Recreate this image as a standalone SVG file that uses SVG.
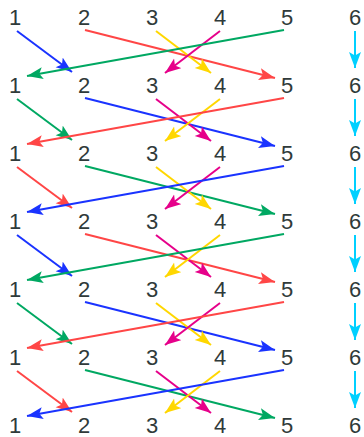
<svg xmlns="http://www.w3.org/2000/svg" width="364" height="437" viewBox="0 0 364 437">
<style>
text{font-family:"Liberation Sans",Arial,sans-serif;font-size:22px;fill:#2f3a3a;text-anchor:middle}
line{stroke-width:2;fill:none}
.b{stroke:#1a33ff;marker-end:url(#mb)}
.r{stroke:#ff4646;marker-end:url(#mr)}
.g{stroke:#00a862;marker-end:url(#mg)}
.y{stroke:#ffd700;marker-end:url(#my)}
.m{stroke:#e6008a;marker-end:url(#mm)}
.c{stroke:#00d0ff;marker-end:url(#mc)}
</style>
<defs>
<marker id="mb" markerUnits="userSpaceOnUse" markerWidth="18" markerHeight="14" refX="16" refY="6" orient="auto"><path d="M0,0 L16,6 L0,12 L3.5,6 z" fill="#1a33ff"/></marker>
<marker id="mr" markerUnits="userSpaceOnUse" markerWidth="18" markerHeight="14" refX="16" refY="6" orient="auto"><path d="M0,0 L16,6 L0,12 L3.5,6 z" fill="#ff4646"/></marker>
<marker id="mg" markerUnits="userSpaceOnUse" markerWidth="18" markerHeight="14" refX="16" refY="6" orient="auto"><path d="M0,0 L16,6 L0,12 L3.5,6 z" fill="#00a862"/></marker>
<marker id="my" markerUnits="userSpaceOnUse" markerWidth="18" markerHeight="14" refX="16" refY="6" orient="auto"><path d="M0,0 L16,6 L0,12 L3.5,6 z" fill="#ffd700"/></marker>
<marker id="mm" markerUnits="userSpaceOnUse" markerWidth="18" markerHeight="14" refX="16" refY="6" orient="auto"><path d="M0,0 L16,6 L0,12 L3.5,6 z" fill="#e6008a"/></marker>
<marker id="mc" markerUnits="userSpaceOnUse" markerWidth="18" markerHeight="14" refX="16" refY="6" orient="auto"><path d="M0,0 L16,6 L0,12 L3.5,6 z" fill="#00d0ff"/></marker>
</defs>
<g id="connectors">
<line class="b" x1="17" y1="31" x2="72" y2="72"/>
<line class="r" x1="85" y1="30" x2="275" y2="78"/>
<line class="y" x1="156" y1="31" x2="211" y2="73"/>
<line class="m" x1="220" y1="31" x2="165" y2="73"/>
<line class="g" x1="284" y1="30" x2="27" y2="76"/>
<line class="c" x1="355" y1="31" x2="355" y2="68"/>

<line class="g" x1="17" y1="99" x2="72" y2="140"/>
<line class="b" x1="85" y1="98" x2="275" y2="146"/>
<line class="m" x1="156" y1="99" x2="211" y2="141"/>
<line class="y" x1="220" y1="99" x2="165" y2="141"/>
<line class="r" x1="284" y1="98" x2="27" y2="144"/>
<line class="c" x1="355" y1="99" x2="355" y2="136"/>

<line class="r" x1="17" y1="167" x2="72" y2="208"/>
<line class="g" x1="85" y1="166" x2="275" y2="214"/>
<line class="y" x1="156" y1="167" x2="211" y2="209"/>
<line class="m" x1="220" y1="167" x2="165" y2="209"/>
<line class="b" x1="284" y1="166" x2="27" y2="212"/>
<line class="c" x1="355" y1="167" x2="355" y2="204"/>

<line class="b" x1="17" y1="235" x2="72" y2="276"/>
<line class="r" x1="85" y1="234" x2="275" y2="282"/>
<line class="m" x1="156" y1="235" x2="211" y2="277"/>
<line class="y" x1="220" y1="235" x2="165" y2="277"/>
<line class="g" x1="284" y1="234" x2="27" y2="280"/>
<line class="c" x1="355" y1="235" x2="355" y2="272"/>

<line class="g" x1="17" y1="303" x2="72" y2="344"/>
<line class="b" x1="85" y1="302" x2="275" y2="350"/>
<line class="y" x1="156" y1="303" x2="211" y2="345"/>
<line class="m" x1="220" y1="303" x2="165" y2="345"/>
<line class="r" x1="284" y1="302" x2="27" y2="348"/>
<line class="c" x1="355" y1="303" x2="355" y2="340"/>

<line class="r" x1="17" y1="371" x2="72" y2="412"/>
<line class="g" x1="85" y1="370" x2="275" y2="418"/>
<line class="m" x1="156" y1="371" x2="211" y2="413"/>
<line class="y" x1="220" y1="371" x2="165" y2="413"/>
<line class="b" x1="284" y1="370" x2="27" y2="416"/>
<line class="c" x1="355" y1="371" x2="355" y2="408"/>
</g>
<g id="r0n1"><text x="15" y="25">1</text></g>
<g id="r0n2"><text x="84" y="25">2</text></g>
<g id="r0n3"><text x="152" y="25">3</text></g>
<g id="r0n4"><text x="220" y="25">4</text></g>
<g id="r0n5"><text x="287" y="25">5</text></g>
<g id="r0n6"><text x="355" y="25">6</text></g>
<g id="r1n1"><text x="15" y="93">1</text></g>
<g id="r1n2"><text x="84" y="93">2</text></g>
<g id="r1n3"><text x="152" y="93">3</text></g>
<g id="r1n4"><text x="220" y="93">4</text></g>
<g id="r1n5"><text x="287" y="93">5</text></g>
<g id="r1n6"><text x="355" y="93">6</text></g>
<g id="r2n1"><text x="15" y="161">1</text></g>
<g id="r2n2"><text x="84" y="161">2</text></g>
<g id="r2n3"><text x="152" y="161">3</text></g>
<g id="r2n4"><text x="220" y="161">4</text></g>
<g id="r2n5"><text x="287" y="161">5</text></g>
<g id="r2n6"><text x="355" y="161">6</text></g>
<g id="r3n1"><text x="15" y="229">1</text></g>
<g id="r3n2"><text x="84" y="229">2</text></g>
<g id="r3n3"><text x="152" y="229">3</text></g>
<g id="r3n4"><text x="220" y="229">4</text></g>
<g id="r3n5"><text x="287" y="229">5</text></g>
<g id="r3n6"><text x="355" y="229">6</text></g>
<g id="r4n1"><text x="15" y="297">1</text></g>
<g id="r4n2"><text x="84" y="297">2</text></g>
<g id="r4n3"><text x="152" y="297">3</text></g>
<g id="r4n4"><text x="220" y="297">4</text></g>
<g id="r4n5"><text x="287" y="297">5</text></g>
<g id="r4n6"><text x="355" y="297">6</text></g>
<g id="r5n1"><text x="15" y="365">1</text></g>
<g id="r5n2"><text x="84" y="365">2</text></g>
<g id="r5n3"><text x="152" y="365">3</text></g>
<g id="r5n4"><text x="220" y="365">4</text></g>
<g id="r5n5"><text x="287" y="365">5</text></g>
<g id="r5n6"><text x="355" y="365">6</text></g>
<g id="r6n1"><text x="15" y="433">1</text></g>
<g id="r6n2"><text x="84" y="433">2</text></g>
<g id="r6n3"><text x="152" y="433">3</text></g>
<g id="r6n4"><text x="220" y="433">4</text></g>
<g id="r6n5"><text x="287" y="433">5</text></g>
<g id="r6n6"><text x="355" y="433">6</text></g>
</svg>
